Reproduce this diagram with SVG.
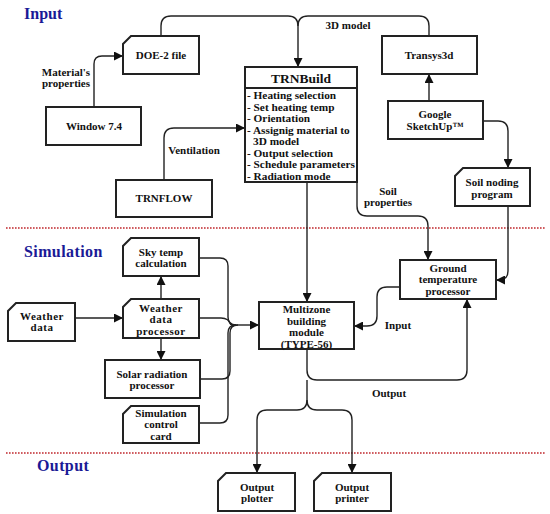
<svg xmlns="http://www.w3.org/2000/svg" width="550" height="514" viewBox="0 0 550 514">
<style>
.box{fill:#fff;stroke:#222;stroke-width:2}
.t{font-family:'Liberation Serif','Times New Roman','DejaVu Serif',serif;font-weight:bold;font-size:11px;fill:#111;text-anchor:middle}
.l{font-family:'Liberation Serif','Times New Roman','DejaVu Serif',serif;font-weight:bold;font-size:11.3px;fill:#111}
.h{font-family:'Liberation Serif','Times New Roman','DejaVu Serif',serif;font-weight:bold;font-size:16px;fill:#1a1a96}
.c{fill:none;stroke:#222;stroke-width:1.4}
.sep{stroke:#c0282d;stroke-width:1.6;stroke-dasharray:1.6 1.4}
</style>
<defs>
<marker id="ah" markerUnits="userSpaceOnUse" markerWidth="10" markerHeight="9" refX="9" refY="4.5" orient="auto">
<path d="M0,0 L9,4.5 L0,9 z" fill="#111"/>
</marker>
</defs>
<rect width="550" height="514" fill="#fff"/>

<g id="titles">
<text class="h" x="24" y="19">Input</text>
<text class="h" x="24" y="257" letter-spacing="0.4">Simulation</text>
<text class="h" x="37" y="471" letter-spacing="0.4">Output</text>
</g>
<g id="separators">
<line class="sep" x1="6" y1="228" x2="545" y2="228"/>
<line class="sep" x1="6" y1="453" x2="545" y2="453"/>
</g>

<g id="connectors">
<path class="c" d="M94,107 V64 Q94,56 102,56 H123" marker-end="url(#ah)"/>
<path class="c" d="M161,36 V26 Q161,16 171,16 H288 Q298,16 298,26 V67" marker-end="url(#ah)"/>
<path class="c" d="M429,36 V26 Q429,16 419,16 H308 Q298,16 298,26"/>
<path class="c" d="M429,101 V74" marker-end="url(#ah)"/>
<path class="c" d="M483,121 H498 Q508,121 508,131 V168" marker-end="url(#ah)"/>
<path class="c" d="M164,180 V138 Q164,128 174,128 H245" marker-end="url(#ah)"/>
<path class="c" d="M307,182 V302" marker-end="url(#ah)"/>
<path class="c" d="M357,182 V206 Q357,216 367,216 H418 Q428,216 428,226 V260" marker-end="url(#ah)"/>
<path class="c" d="M508,206 V271 Q508,280 499,280 L496,280" marker-end="url(#ah)"/>
<path class="c" d="M400,287 H387 Q377,287 377,297 V316 Q377,326 367,326 H354" marker-end="url(#ah)"/>
<path class="c" d="M307,349 V370 Q307,380 317,380 H457 Q467,380 467,370 V299" marker-end="url(#ah)"/>
<path class="c" d="M307,380 V400 Q307,410 297,410 H267 Q257,410 257,420 V473" marker-end="url(#ah)"/>
<path class="c" d="M307,400 Q307,410 317,410 H342 Q352,410 352,420 V473" marker-end="url(#ah)"/>
<path class="c" d="M75,318 H123" marker-end="url(#ah)"/>
<path class="c" d="M161,299 V276" marker-end="url(#ah)"/>
<path class="c" d="M161,338 V360" marker-end="url(#ah)"/>
<path class="c" d="M199,258 H220 Q228,258 228,266 V317 Q228,325 236,325"/>
<path class="c" d="M199,318 H221 Q229,318 231,325"/>
<path class="c" d="M200,379 H222 Q230,379 230,371 V333 Q230,325 238,325"/>
<path class="c" d="M199,423 H220 Q228,423 228,415 V333 Q228,325 236,325"/>
<path class="c" d="M231,325 H259" marker-end="url(#ah)"/>
<text class="t" x="66" y="76">Material's</text>
<text class="t" x="66" y="87">properties</text>
<text class="t" x="348" y="29">3D model</text>
<text class="t" x="194" y="154">Ventilation</text>
<text class="t" x="388" y="195">Soil</text>
<text class="t" x="388" y="205.5">properties</text>
<text class="t" x="398" y="329">Input</text>
<text class="t" x="389" y="397">Output</text>
</g>

<g id="doe2">
<path class="box" d="M131,36 H199 V74 H123 V44 Z"/>
<text class="t" x="161" y="59">DOE-2 file</text>
</g>
<g id="window74">
<rect class="box" x="46" y="107" width="95" height="38"/>
<text class="t" x="94" y="130">Window 7.4</text>
</g>
<g id="trnbuild">
<rect class="box" x="245" y="67" width="112" height="115"/>
<line x1="245" y1="88" x2="357" y2="88" stroke="#222" stroke-width="2"/>
<text class="t" x="301" y="82.5" style="font-size:13.5px">TRNBuild</text>
<text class="l" x="247" y="99">- Heating selection</text>
<text class="l" x="247" y="110.5">- Set heating temp</text>
<text class="l" x="247" y="122">- Orientation</text>
<text class="l" x="247" y="133.5">- Assignig material to</text>
<text class="l" x="253" y="145">3D model</text>
<text class="l" x="247" y="156.5">- Output selection</text>
<text class="l" x="247" y="168">- Schedule parameters</text>
<text class="l" x="247" y="179.5">- Radiation mode</text>
</g>
<g id="transys3d">
<rect class="box" x="382" y="36" width="95" height="38"/>
<text class="t" x="429" y="59">Transys3d</text>
</g>
<g id="sketchup">
<rect class="box" x="388" y="101" width="95" height="38"/>
<text class="t" x="435" y="118">Google</text>
<text class="t" x="435" y="130">SketchUp™</text>
</g>
<g id="soilnoding">
<path class="box" d="M463,168 H530 V206 H455 V176 Z"/>
<text class="t" x="492" y="186">Soil noding</text>
<text class="t" x="492" y="198">program</text>
</g>
<g id="trnflow">
<rect class="box" x="116" y="180" width="96" height="37"/>
<text class="t" x="164" y="202">TRNFLOW</text>
</g>
<g id="ground">
<rect class="box" x="400" y="260" width="96" height="39"/>
<text class="t" x="448" y="271.5">Ground</text>
<text class="t" x="448" y="283">temperature</text>
<text class="t" x="448" y="294.5">processor</text>
</g>
<g id="skytemp">
<path class="box" d="M131,238 H199 V276 H123 V246 Z"/>
<text class="t" x="161" y="255.5">Sky temp</text>
<text class="t" x="161" y="267">calculation</text>
</g>
<g id="weatherproc">
<path class="box" d="M131,299 H199 V338 H123 V307 Z"/>
<text class="t" x="161" y="311.5" letter-spacing="0.5">Weather</text>
<text class="t" x="161" y="323" letter-spacing="0.5">data</text>
<text class="t" x="161" y="334.5" letter-spacing="0.5">processor</text>
</g>
<g id="weatherdata">
<path class="box" d="M16,303 H75 V341 H8 V311 Z"/>
<text class="t" x="42" y="319.5" letter-spacing="0.5">Weather</text>
<text class="t" x="42" y="331" letter-spacing="0.5">data</text>
</g>
<g id="solar">
<rect class="box" x="105" y="360" width="95" height="38"/>
<text class="t" x="152" y="377.5">Solar radiation</text>
<text class="t" x="152" y="389">processor</text>
</g>
<g id="simcontrol">
<path class="box" d="M131,406 H199 V443 H123 V414 Z"/>
<text class="t" x="161" y="416.5">Simulation</text>
<text class="t" x="161" y="428">control</text>
<text class="t" x="161" y="439.5">card</text>
</g>
<g id="multizone">
<rect class="box" x="259" y="302" width="95" height="47"/>
<text class="t" x="306.5" y="313">Multizone</text>
<text class="t" x="306.5" y="324.5">building</text>
<text class="t" x="306.5" y="336">module</text>
<text class="t" x="306.5" y="347.5">(TYPE-56)</text>
</g>
<g id="plotter">
<path class="box" d="M226,473 H295 V511 H218 V481 Z"/>
<text class="t" x="257" y="491">Output</text>
<text class="t" x="257" y="502">plotter</text>
</g>
<g id="printer">
<path class="box" d="M322,473 H391 V511 H314 V481 Z"/>
<text class="t" x="352" y="491">Output</text>
<text class="t" x="352" y="502">printer</text>
</g>
</svg>
